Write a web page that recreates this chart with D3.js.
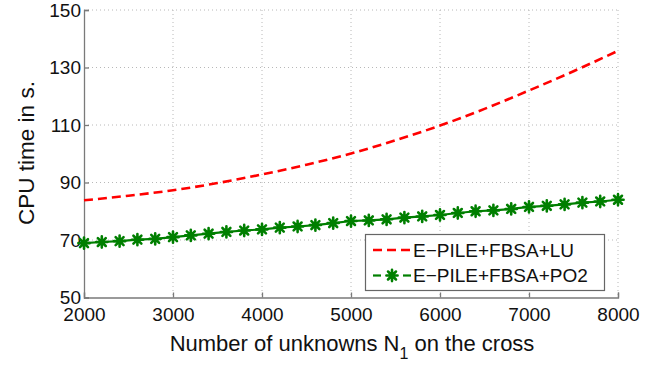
<!DOCTYPE html>
<html>
<head>
<meta charset="utf-8">
<script src="https://cdn.jsdelivr.net/npm/d3@7"></script>
<style>
  html, body { margin: 0; padding: 0; background: #fff; }
  svg { display: block; font-family: "Liberation Sans", Arial, Helvetica, sans-serif; }
</style>
</head>
<body>
<svg id="chart" width="666" height="369"></svg>
<script>
// CPU time (s) versus number of unknowns on the cross
const xTicks = [2000, 3000, 4000, 5000, 6000, 7000, 8000];
const yTicks = [50, 70, 90, 110, 130, 150];

// E-PILE+FBSA+LU (dashed red)
const luN    = [2000, 2500, 3000, 3500, 4000, 4500, 5000, 5500, 6000, 6500, 7000, 7500, 8000];
const luTime = [83.8, 85.4, 87.3, 89.8, 92.8, 96.2, 100.1, 104.7, 109.8, 115.6, 122.0, 128.7, 135.8];

// E-PILE+FBSA+PO2 (green, asterisk markers)
const poN    = [2000, 2200, 2400, 2600, 2800, 3000, 3200, 3400, 3600, 3800, 4000,
                4200, 4400, 4600, 4800, 5000, 5200, 5400, 5600, 5800, 6000,
                6200, 6400, 6600, 6800, 7000, 7200, 7400, 7600, 7800, 8000];
const poTime = [68.9, 69.3, 69.6, 70.1, 70.4, 71.0, 71.6, 72.2, 72.8, 73.3, 73.7,
                74.3, 74.7, 75.2, 75.9, 76.6, 76.8, 77.2, 77.8, 78.2, 78.7,
                79.4, 80.0, 80.3, 80.8, 81.5, 81.9, 82.4, 83.0, 83.4, 84.0];

const seriesNames = ["E\u2212PILE+FBSA+LU", "E\u2212PILE+FBSA+PO2"];

const svg = d3.select("#chart");
const plotLeft = 84, plotRight = 618, plotTop = 10, plotBottom = 297.5;

const x = d3.scaleLinear().domain([2000, 8000]).range([plotLeft, plotRight]);
const y = d3.scaleLinear().domain([50, 150]).range([plotBottom, plotTop]);

const axisColor = "#7a7a7a";
const gridColor = "#b8b8b8";

// dotted grid (also forms the top and right edges)
const grid = svg.append("g");
grid.selectAll("line.gx").data(xTicks.slice(1)).join("line")
  .attr("x1", d => x(d)).attr("x2", d => x(d))
  .attr("y1", plotTop).attr("y2", plotBottom)
  .attr("stroke", gridColor).attr("stroke-width", 1).attr("stroke-dasharray", "1,3");
grid.selectAll("line.gy").data(yTicks.slice(1)).join("line")
  .attr("x1", plotLeft).attr("x2", plotRight)
  .attr("y1", d => y(d)).attr("y2", d => y(d))
  .attr("stroke", gridColor).attr("stroke-width", 1).attr("stroke-dasharray", "1,3");

// axes with inward ticks
const xAxis = svg.append("g").attr("transform", `translate(0,${plotBottom})`)
  .call(d3.axisBottom(x).tickValues(xTicks).tickSize(-5).tickPadding(10).tickFormat(d3.format("d")));
const yAxis = svg.append("g").attr("transform", `translate(${plotLeft},0)`)
  .call(d3.axisLeft(y).tickValues(yTicks).tickSize(-5).tickPadding(4).tickFormat(d3.format("d")));

[xAxis, yAxis].forEach(a => {
  a.select(".domain").attr("stroke", axisColor).attr("stroke-width", 1.3);
  a.selectAll(".tick line").attr("stroke", axisColor).attr("stroke-width", 1.3);
  a.selectAll(".tick text").attr("fill", "#111").attr("font-size", 19)
    .attr("font-family", "'Liberation Sans', Arial, sans-serif");
});
xAxis.selectAll(".tick text").attr("dy", "0.78em").attr("y", 9);
yAxis.selectAll(".tick text").attr("x", -3);

// series
const luData = luN.map((n, i) => [n, luTime[i]]);
const poData = poN.map((n, i) => [n, poTime[i]]);

svg.append("path").datum(luData)
  .attr("d", d3.line().x(d => x(d[0])).y(d => y(d[1])).curve(d3.curveMonotoneX))
  .attr("fill", "none").attr("stroke", "#ff0000")
  .attr("stroke-width", 2.6).attr("stroke-dasharray", "9,5");

svg.append("path").datum(poData)
  .attr("d", d3.line().x(d => x(d[0])).y(d => y(d[1])))
  .attr("fill", "none").attr("stroke", "#007f00").attr("stroke-width", 2.2);

function asterisk(r) {
  const d = r * Math.SQRT1_2;
  return `M${-r},0L${r},0M0,${-r}L0,${r}M${-d},${-d}L${d},${d}M${-d},${d}L${d},${-d}`;
}

svg.append("g").selectAll("path").data(poData).join("path")
  .attr("transform", d => `translate(${x(d[0])},${y(d[1])})`)
  .attr("d", asterisk(5.6))
  .attr("fill", "none").attr("stroke", "#007f00").attr("stroke-width", 2.6)
  .attr("stroke-linecap", "round");

// legend
const lg = svg.append("g");
lg.append("rect").attr("x", 365.5).attr("y", 234.5).attr("width", 239).attr("height", 56)
  .attr("fill", "#fff").attr("stroke", "#666").attr("stroke-width", 1.2);

const rows = [250, 275.5];
lg.append("line").attr("x1", 373).attr("x2", 411).attr("y1", rows[0]).attr("y2", rows[0])
  .attr("stroke", "#ff0000").attr("stroke-width", 2.6).attr("stroke-dasharray", "9,5");
lg.append("line").attr("x1", 373).attr("x2", 381).attr("y1", rows[1]).attr("y2", rows[1])
  .attr("stroke", "#007f00").attr("stroke-width", 2.2);
lg.append("path").attr("transform", `translate(392,${rows[1]})`).attr("d", asterisk(5.6))
  .attr("fill", "none").attr("stroke", "#007f00").attr("stroke-width", 2.6).attr("stroke-linecap", "round");
lg.append("line").attr("x1", 403).attr("x2", 411).attr("y1", rows[1]).attr("y2", rows[1])
  .attr("stroke", "#007f00").attr("stroke-width", 2.2);

lg.selectAll("text").data(seriesNames).join("text")
  .attr("x", 413).attr("y", (d, i) => rows[i] + 6.5)
  .attr("font-size", 19).attr("fill", "#111").text(d => d);

// axis titles
const xt = svg.append("text").attr("x", 352).attr("y", 351)
  .attr("text-anchor", "middle").attr("font-size", 22).attr("fill", "#111");
xt.append("tspan").text("Number of unknowns N");
xt.append("tspan").attr("font-size", 16).attr("dy", 8).text("1");
xt.append("tspan").attr("dy", -8).text(" on the cross");

svg.append("text").attr("transform", "translate(34,153) rotate(-90)")
  .attr("text-anchor", "middle").attr("font-size", 22.5).attr("fill", "#111")
  .text("CPU time in s.");
</script>
</body>
</html>
